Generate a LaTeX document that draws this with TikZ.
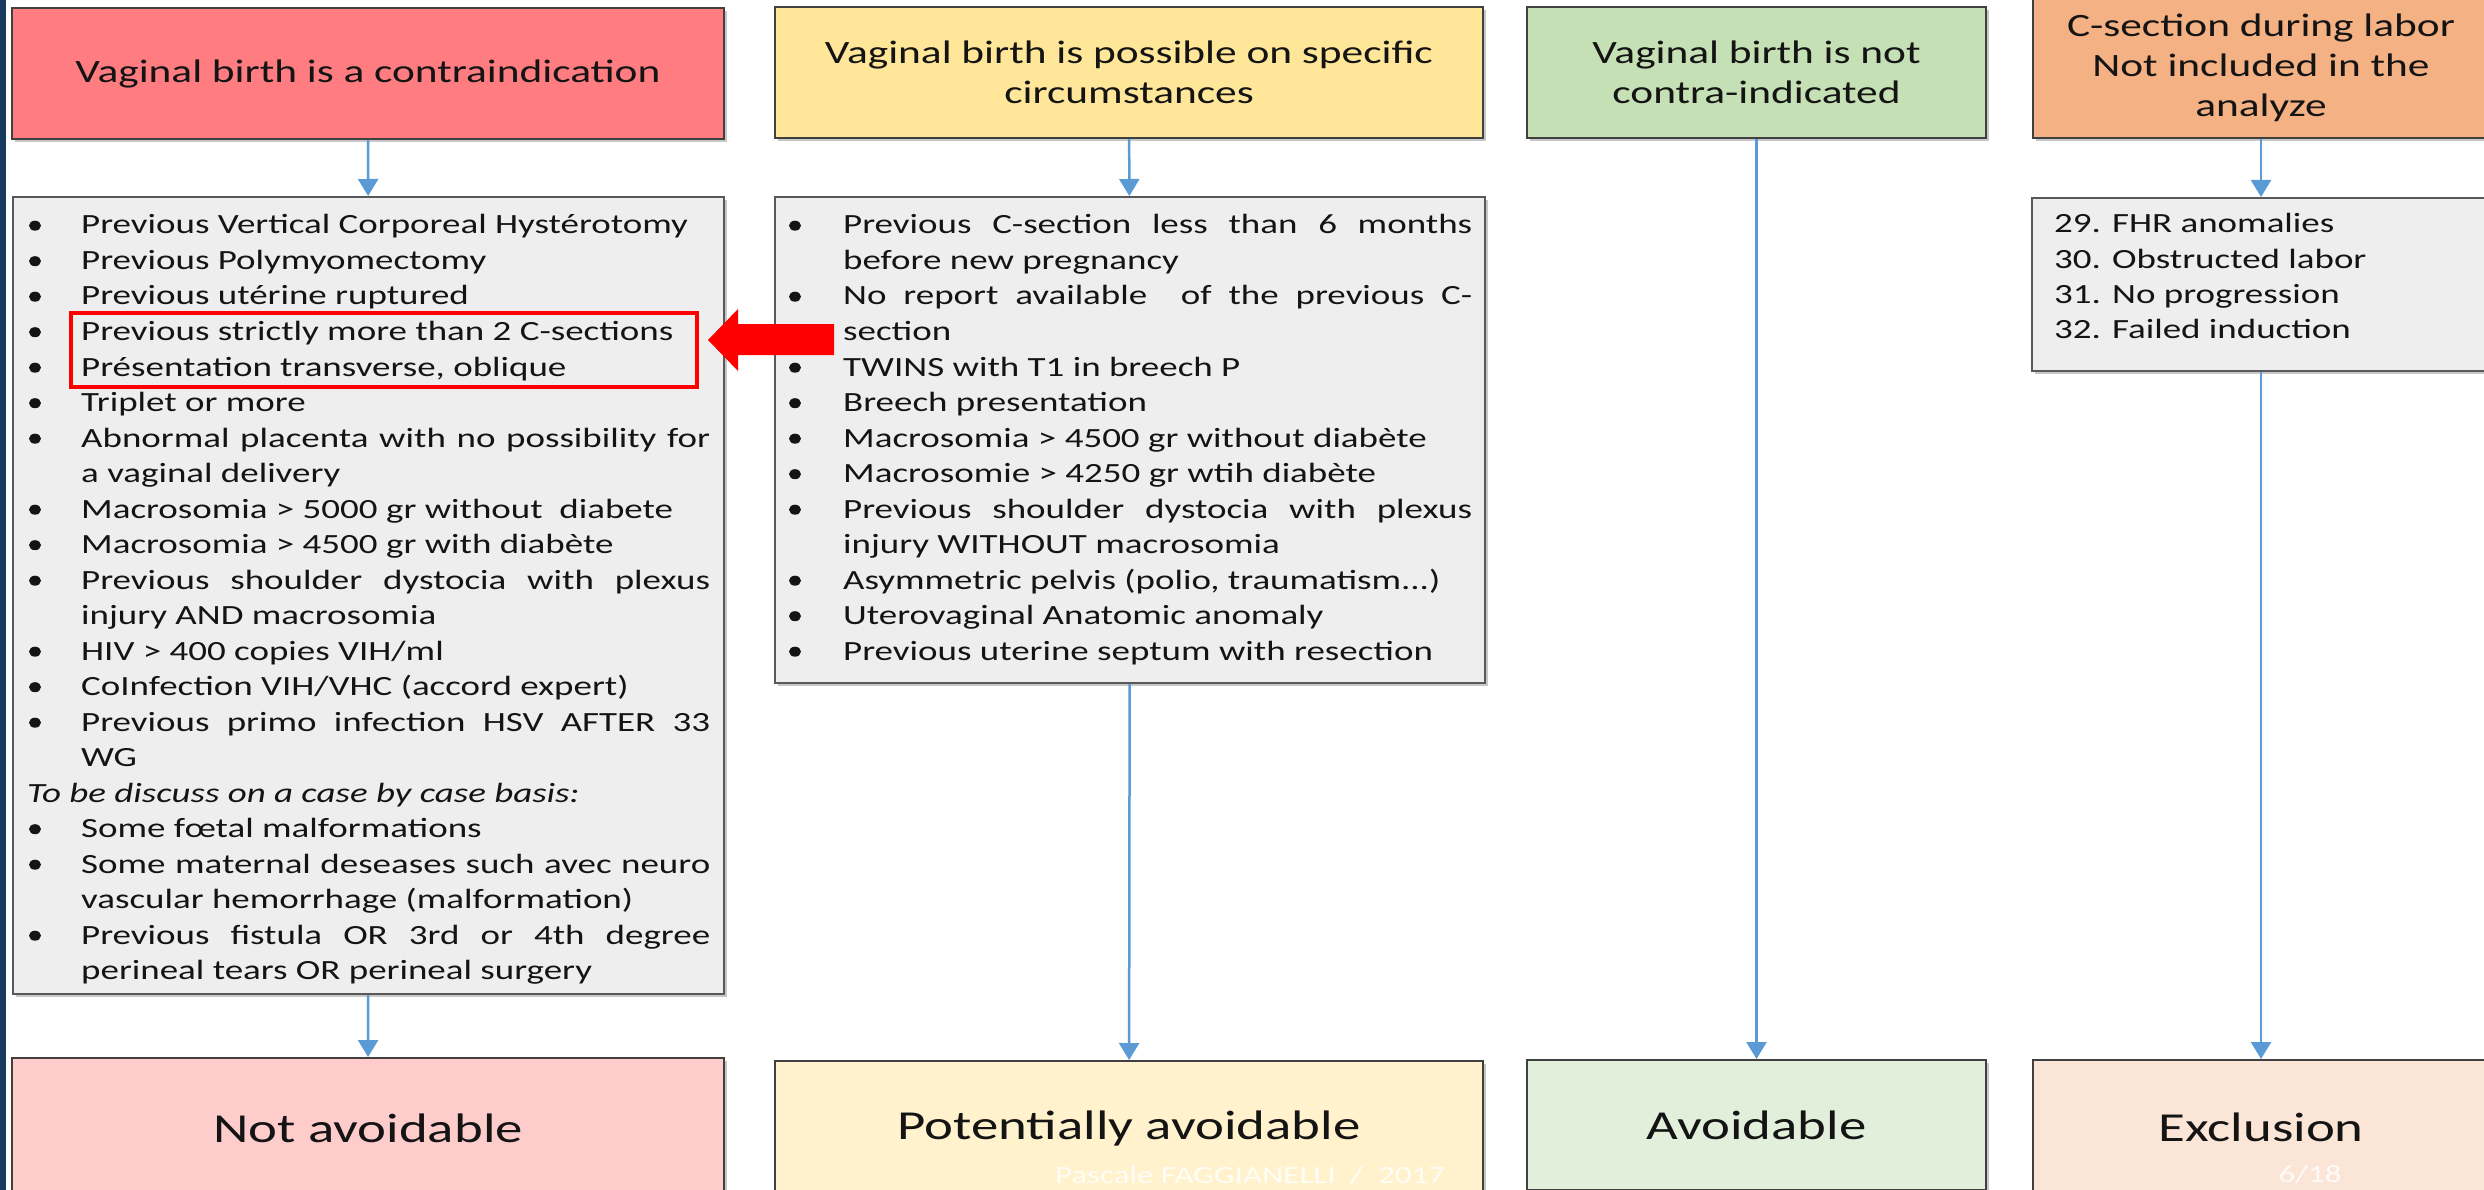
\documentclass[tikz,border=0pt]{standalone}
\usepackage{fontspec}
\setmainfont{Carlito}[FakeStretch=1.33]
\usetikzlibrary{shapes.geometric,shadows,arrows.meta}
\definecolor{cRed}{HTML}{FF7C80}
\definecolor{cYel}{HTML}{FFE699}
\definecolor{cGrn}{HTML}{C5E0B4}
\definecolor{cOra}{HTML}{F4B183}
\definecolor{cList}{HTML}{EEEEEE}
\definecolor{cBa}{HTML}{FFCCCC}
\definecolor{cBb}{HTML}{FFF2CC}
\definecolor{cBc}{HTML}{E2EFDA}
\definecolor{cBd}{HTML}{FBE5D6}
\definecolor{boxline}{HTML}{404040}
\definecolor{listline}{HTML}{595959}
\definecolor{arrowblue}{HTML}{5B9BD5}
\definecolor{navy}{HTML}{173A5E}
\definecolor{txt}{HTML}{141414}
\newcommand\listfont{\fontsize{27.8}{35.5}\selectfont}
\newcommand\topfont{\fontsize{32.6}{40}\selectfont}
\newcommand\botfont{\fontsize{41.2}{48}\selectfont}
\newcommand\wmfont{\fontsize{24.8}{30}\selectfont}
\newcommand\justline[1]{\makebox[629pt][s]{#1}}
\newcommand\itm[5]{\node[bul] (#1b) at (#2,#4-8.3) {}; \node[lt] (#1) at (#3,#4) {#5};}
\newcommand\cont[4]{\node[lt] (#1) at (#2,#3) {#4};}
\begin{document}
\begin{tikzpicture}[x=1pt,y=-1pt,
  box/.style={draw=boxline, line width=2pt, inner sep=0pt, align=center, text=txt,
    drop shadow={shadow xshift=3pt, shadow yshift=-3pt, opacity=0.22, fill=black}},
  topbox/.style={box, font=\topfont},
  listbox/.style={box, fill=cList, draw=listline},
  botbox/.style={box, font=\botfont},
  conn/.style={draw=arrowblue, line width=2.5pt, -{Triangle[width=20pt,length=17pt]}},
  lt/.style={anchor=base west, inner sep=0pt, font=\listfont, text=txt},
  bul/.style={ellipse, fill=txt, draw=none, inner sep=0pt, minimum width=12pt, minimum height=10pt},
  wm/.style={anchor=base, inner sep=0pt, font=\wmfont, text=white, opacity=0.85}]
\useasboundingbox (0,0) rectangle (2484,1190);
\fill[white] (0,0) rectangle (2484,1190);
\fill[navy] (0,0) rectangle (6,1190);

% top boxes
\node[topbox, fill=cRed, minimum width=712pt, minimum height=131pt] (t1) at (368,73.5) {Vaginal birth is a contraindication};
\node[topbox, fill=cYel, minimum width=708pt, minimum height=131pt] (t2) at (1129,72.5) {Vaginal birth is possible on specific\\circumstances};
\node[topbox, fill=cGrn, minimum width=459pt, minimum height=131pt] (t3) at (1756.5,72.5) {Vaginal birth is not\\contra-indicated};
\node[topbox, fill=cOra, minimum width=456pt, minimum height=141pt] (t4) at (2261,67.5) {C-section during labor\\Not included in the\\analyze};

% list boxes
\node[listbox, minimum width=711pt, minimum height=797pt] (l1) at (368.5,595.5) {};
\node[listbox, minimum width=710pt, minimum height=486pt] (l2) at (1130,440) {};
\node[listbox, minimum width=458pt, minimum height=173pt] (l4) at (2261,284.5) {};

% bottom boxes
\node[botbox, fill=cBa, minimum width=712pt, minimum height=140pt] (b1) at (368,1128) {Not avoidable};
\node[botbox, fill=cBb, minimum width=708pt, minimum height=136pt] (b2) at (1129,1129) {Potentially avoidable};
\node[botbox, fill=cBc, minimum width=459pt, minimum height=130pt] (b3) at (1756.5,1125) {Avoidable};
\node[botbox, fill=cBd, minimum width=456pt, minimum height=134pt] (b4) at (2261,1127) {Exclusion};

% connectors
\draw[conn] (t1) -- (l1);
\draw[conn] (l1) -- (b1);
\draw[conn] (t2) -- (l2);
\draw[conn] (l2) -- (b2);
\draw[conn] (t3) -- (b3);
\draw[conn] (t4) -- (l4);
\draw[conn] (l4) -- (b4);

% left list
\itm{a1}{35}{81}{234}{Previous Vertical Corporeal Hystérotomy}
\itm{a2}{35}{81}{269.5}{Previous Polymyomectomy}
\itm{a3}{35}{81}{305}{Previous utérine ruptured}
\itm{a4}{35}{81}{340.5}{Previous strictly more than 2 C-sections}
\itm{a5}{35}{81}{376}{Présentation transverse, oblique}
\itm{a6}{35}{81}{411.5}{Triplet or more}
\itm{a7}{35}{81}{447}{\justline{Abnormal placenta with no possibility for}}
\cont{a8}{81}{482.5}{a vaginal delivery}
\itm{a9}{35}{81}{518}{Macrosomia > 5000 gr without\ \ diabete}
\itm{a10}{35}{81}{553.5}{Macrosomia > 4500 gr with diabète}
\itm{a11}{35}{81}{589}{\justline{Previous shoulder dystocia with plexus}}
\cont{a12}{81}{624.5}{injury AND macrosomia}
\itm{a13}{35}{81}{660}{HIV > 400 copies VIH/ml}
\itm{a14}{35}{81}{695.5}{CoInfection VIH/VHC (accord expert)}
\itm{a15}{35}{81}{731}{\justline{Previous primo infection HSV AFTER 33}}
\cont{a16}{81}{766.5}{WG}
\cont{a17}{27}{802}{\itshape To be discuss on a case by case basis:}
\itm{a18}{35}{81}{837.5}{Some fœtal malformations}
\itm{a19}{35}{81}{873}{\justline{Some maternal deseases such avec neuro}}
\cont{a20}{81}{908.5}{vascular hemorrhage (malformation)}
\itm{a21}{35}{81}{944}{\justline{Previous fistula OR 3rd or 4th degree}}
\cont{a22}{81}{979.5}{perineal tears OR perineal surgery}

% middle list
\itm{c1}{795}{843}{234}{\justline{Previous C-section less than 6 months}}
\cont{c2}{843}{269.5}{before new pregnancy}
\itm{c3}{795}{843}{305}{\justline{No report available\ \ of the previous C-}}
\cont{c4}{843}{340.5}{section}
\itm{c5}{795}{843}{376}{TWINS with T1 in breech P}
\itm{c6}{795}{843}{411.5}{Breech presentation}
\itm{c7}{795}{843}{447}{Macrosomia > 4500 gr without diabète}
\itm{c8}{795}{843}{482.5}{Macrosomie > 4250 gr wtih diabète}
\itm{c9}{795}{843}{518}{\justline{Previous shoulder dystocia with plexus}}
\cont{c10}{843}{553.5}{injury WITHOUT macrosomia}
\itm{c11}{795}{843}{589}{Asymmetric pelvis (polio, traumatism...)}
\itm{c12}{795}{843}{624.5}{Uterovaginal Anatomic anomaly}
\itm{c13}{795}{843}{660}{Previous uterine septum with resection}

% right list
\cont{d1}{2054}{233}{29. FHR anomalies}
\cont{d2}{2054}{268.3}{30. Obstructed labor}
\cont{d3}{2054}{303.6}{31. No progression}
\cont{d4}{2054}{338.9}{32. Failed induction}

% highlight and red block arrow
\node[draw=red, line width=4pt, minimum width=626pt, minimum height=74pt, inner sep=0pt] (hl) at (384,350) {};
\fill[red] (834,324) -- (738,324) -- (738,309) -- (708,340) -- (738,371) -- (738,355) -- (834,355) -- cycle;

% watermark texts
\node[wm] (wm1) at (1250,1183) {Pascale FAGGIANELLI~ /~ 2017};
\node[wm] (wm2) at (2310,1182) {6/18};
\end{tikzpicture}
\end{document}
